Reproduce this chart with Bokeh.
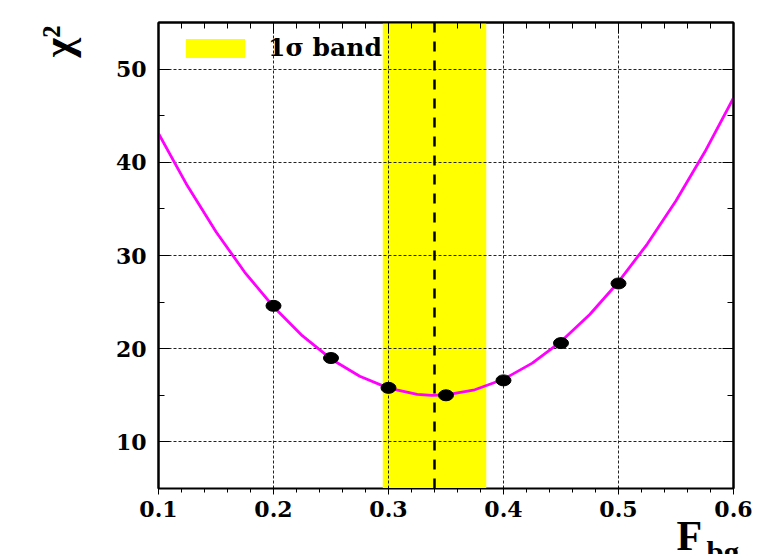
import math
from bokeh.plotting import figure
from bokeh.models import (Range1d, FixedTicker, LinearAxis, Span, Legend,
                          LegendItem, ColumnDataSource, Title)
from bokeh.embed import file_html
from bokeh.resources import INLINE

# ---- data ----
fbg_points = [0.20, 0.25, 0.30, 0.35, 0.40, 0.45, 0.50]
chi2_points = [24.6, 19.0, 15.8, 15.0, 16.6, 20.6, 27.0]

fit_x = [0.100, 0.125, 0.150, 0.175, 0.200, 0.225, 0.250, 0.275, 0.300, 0.325,
         0.3375, 0.350, 0.375, 0.400, 0.425, 0.450, 0.475, 0.500, 0.525, 0.550,
         0.575, 0.600]
fit_y = [43.1, 37.5, 32.55, 28.2, 24.5, 21.4, 18.9, 17.04, 15.77, 15.11,
         15.0, 15.05, 15.59, 16.72, 18.45, 20.77, 23.67, 27.16, 31.23, 35.88,
         41.1, 46.9]

best_fit = 0.34
band_lo = 0.295
band_hi = 0.385

x_ticks = [0.1, 0.2, 0.3, 0.4, 0.5, 0.6]
x_minor = [round(0.1 + 0.02 * i, 2) for i in range(26)]
y_ticks = [10, 20, 30, 40, 50]
y_minor = [5, 15, 25, 35, 45, 55]

y_title = "χ²"
x_title_main = "F"
x_title_sub = "bg"
band_label = "1σ band"

XMIN, XMAX = 0.1, 0.6
YMIN, YMAX = 5, 55

W, H = 770, 554
L, R, T, B = 157, 37, 22, 66

p = figure(width=W, height=H, output_backend="svg", toolbar_location=None,
           x_range=Range1d(XMIN, XMAX), y_range=Range1d(YMIN, YMAX),
           min_border_left=L, min_border_right=R, min_border_top=T,
           min_border_bottom=B, background_fill_color="white",
           border_fill_color="white")

p.outline_line_color = "black"
p.outline_line_width = 2

xt = FixedTicker(ticks=x_ticks, minor_ticks=x_minor)
yt = FixedTicker(ticks=y_ticks, minor_ticks=y_minor)
p.xaxis.ticker = xt
p.yaxis.ticker = yt
p.xaxis.major_label_overrides = {v: f"{v:.1f}" for v in x_ticks}

for ax in [p.xaxis[0], p.yaxis[0]]:
    ax.major_label_text_font = "DejaVu Serif"
    ax.major_label_text_font_style = "bold"
    ax.major_label_text_font_size = "22px"
    ax.major_label_text_color = "black"

p.xaxis.major_label_standoff = 6
p.yaxis.major_label_standoff = 12

top_ax = LinearAxis(ticker=xt, major_label_text_color=None,
                    major_label_text_font_size="0px")
right_ax = LinearAxis(ticker=yt, major_label_text_color=None,
                      major_label_text_font_size="0px")
p.add_layout(top_ax, "above")
p.add_layout(right_ax, "right")

for ax in [p.xaxis[0], p.yaxis[0], top_ax, right_ax]:
    ax.axis_line_color = "black"
    ax.axis_line_width = 2
    ax.major_tick_in = 11
    ax.major_tick_out = 0
    ax.minor_tick_in = 6
    ax.minor_tick_out = 0
    ax.major_tick_line_color = "black"
    ax.minor_tick_line_color = "black"
    ax.major_tick_line_width = 1
    ax.minor_tick_line_width = 1

p.xgrid.ticker = xt
p.ygrid.ticker = yt
for g in [p.xgrid[0], p.ygrid[0]]:
    g.grid_line_color = "#222222"
    g.grid_line_dash = "3 2"
    g.grid_line_width = 1
    g.grid_line_alpha = 1.0

# 1 sigma band
band_src = ColumnDataSource(dict(left=[band_lo], right=[band_hi],
                                 top=[YMAX], bottom=[YMIN]))
band = p.quad(left="left", right="right", top="top", bottom="bottom",
              source=band_src, fill_color="#ffff00", line_color=None,
              level="image")

# best fit dashed line
p.add_layout(Span(location=best_fit, dimension="height", line_color="black",
                  line_width=2.5, line_dash="10 9"))

# fit curve
p.line(fit_x, fit_y, line_color="#ff00ff", line_width=2.8)

# points
p.ellipse(x=fbg_points, y=chi2_points, width=15, height=11,
          width_units="screen", height_units="screen",
          fill_color="black", line_color="black")

legend = Legend(items=[LegendItem(label=band_label, renderers=[band])],
                location=(20, 426), padding=0, margin=0, spacing=0,
                glyph_width=74, glyph_height=24, label_standoff=16,
                label_text_font="DejaVu Serif", label_text_font_style="bold",
                label_text_font_size="25px", label_text_color="black",
                border_line_color=None, background_fill_alpha=0)
p.add_layout(legend)


def set_standoff(t, v):
    try:
        t.standoff = v
    except Exception:
        t.standoff = 0


# axis titles in side panels (not clipped to the frame)
t_y = Title(text=y_title, align="right", vertical_align="bottom", offset=3,
            text_font="Liberation Serif", text_font_style="bold",
            text_font_size="42px", text_color="black")
set_standoff(t_y, 64)
p.add_layout(t_y, "left")

t_f = Title(text=x_title_main, align="left", vertical_align="bottom", offset=518,
            text_font="Liberation Serif", text_font_style="bold",
            text_font_size="42px", text_color="black")
set_standoff(t_f, -18)
p.add_layout(t_f, "below")

t_bg = Title(text=x_title_sub, align="left", vertical_align="bottom", offset=548,
             text_font="Liberation Serif", text_font_style="bold",
             text_font_size="31px", text_color="black")
set_standoff(t_bg, -40)
p.add_layout(t_bg, "below")

open("out.html", "w").write(file_html(p, INLINE))
